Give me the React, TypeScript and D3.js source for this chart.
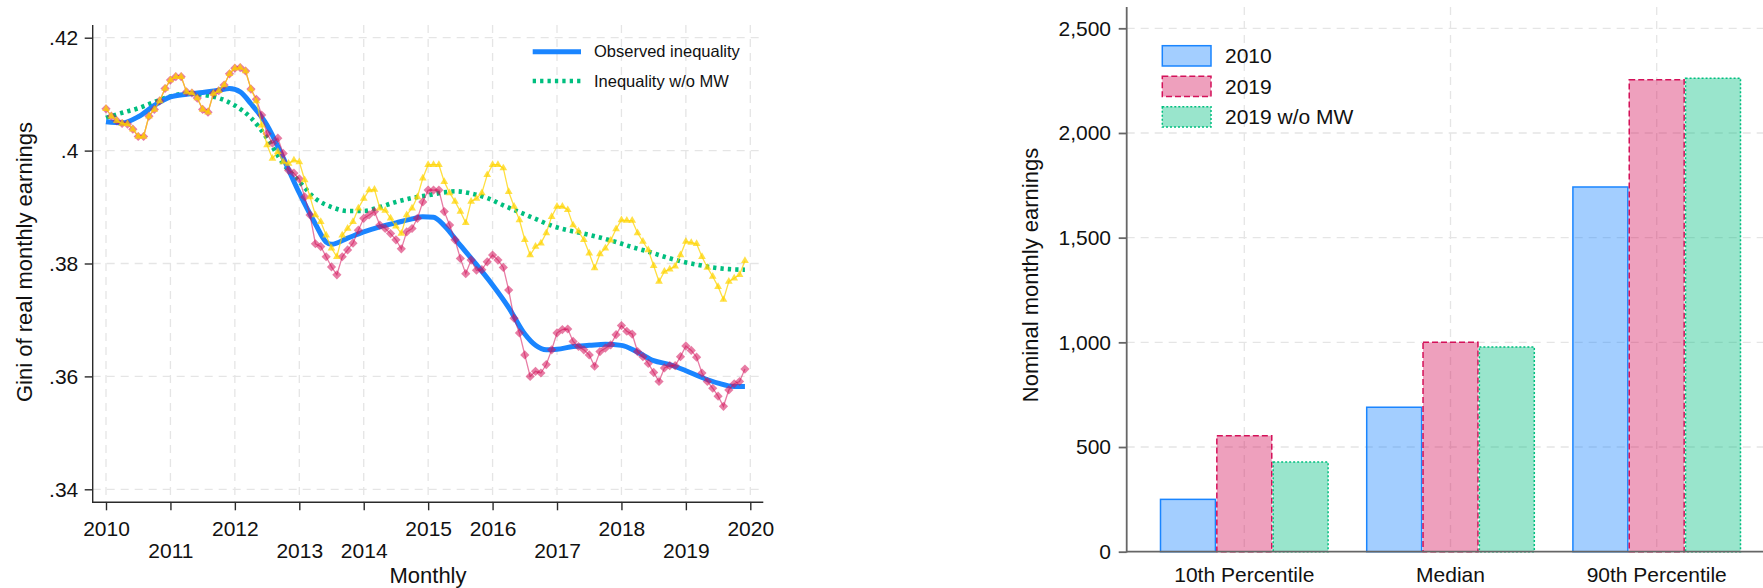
import React, { useEffect, useRef } from "react";
import * as d3 from "d3";

const W = 1763;
const H = 588;
const FONT = "'Liberation Sans', Arial, sans-serif";

// ---- left panel: monthly Gini, 2010m1 .. 2019m12 ----
const firstYear = 2010;
const giniObserved = [
  0.4074, 0.4061, 0.4053, 0.4048, 0.4047, 0.4038, 0.4025, 0.4025, 0.4061, 0.4073, 0.4088, 0.411,
  0.4125, 0.4131, 0.4131, 0.4104, 0.4102, 0.4093, 0.4073, 0.4068, 0.4101, 0.4106, 0.4116, 0.4136,
  0.4146, 0.4147, 0.4141, 0.4109, 0.4091, 0.4063, 0.403, 0.4013, 0.4022, 0.3995, 0.3965, 0.396,
  0.395, 0.3918, 0.3886, 0.3835, 0.383, 0.3812, 0.3794, 0.378, 0.3812, 0.3824, 0.3836, 0.3859,
  0.388, 0.3886, 0.3892, 0.3868, 0.3862, 0.3853, 0.3842, 0.3826, 0.3856, 0.3862, 0.388, 0.3909,
  0.393, 0.393, 0.393, 0.3892, 0.3868, 0.3842, 0.3809, 0.3782, 0.3806, 0.3788, 0.3789, 0.3803,
  0.3815, 0.3806, 0.3793, 0.3753, 0.3703, 0.3677, 0.3638, 0.36, 0.3609, 0.3606, 0.3621, 0.3647,
  0.3677, 0.3683, 0.3684, 0.3662, 0.3653, 0.3647, 0.3638, 0.3618, 0.3644, 0.365, 0.3656, 0.3674,
  0.369, 0.368, 0.3675, 0.3644, 0.3635, 0.3623, 0.3607, 0.3591, 0.3615, 0.3619, 0.3619, 0.3635,
  0.3654, 0.3646, 0.3634, 0.3606, 0.3591, 0.3579, 0.3565, 0.3547, 0.3576, 0.3587, 0.3591, 0.3613,
];
const giniNoMW = [
  0.4074, 0.4061, 0.4053, 0.4048, 0.4047, 0.4038, 0.4025, 0.4025, 0.4061, 0.4073, 0.4088, 0.411,
  0.4125, 0.4131, 0.4131, 0.4104, 0.4102, 0.4093, 0.4073, 0.4068, 0.4101, 0.4106, 0.4116, 0.4136,
  0.4146, 0.4147, 0.4141, 0.4109, 0.4088, 0.4045, 0.401, 0.3986, 0.3998, 0.398, 0.3977, 0.3983,
  0.398, 0.3948, 0.3918, 0.3886, 0.3874, 0.385, 0.3827, 0.3812, 0.385, 0.3862, 0.3874, 0.3898,
  0.3915, 0.393, 0.3931, 0.3898, 0.3894, 0.388, 0.3866, 0.3853, 0.3886, 0.3898, 0.3918, 0.3951,
  0.3975, 0.3975, 0.3975, 0.3945, 0.3925, 0.391, 0.3892, 0.3872, 0.391, 0.3915, 0.3925, 0.3957,
  0.3975, 0.3975, 0.3969, 0.3927, 0.3901, 0.3877, 0.3842, 0.3815, 0.383, 0.3836, 0.3854, 0.3883,
  0.3901, 0.3901, 0.3895, 0.3868, 0.3857, 0.3842, 0.3818, 0.3792, 0.3817, 0.3827, 0.3841, 0.3861,
  0.3877, 0.3876, 0.3876, 0.3854, 0.3839, 0.3824, 0.3796, 0.3768, 0.3786, 0.379, 0.3795, 0.3815,
  0.3839, 0.3837, 0.3835, 0.3812, 0.3793, 0.3777, 0.3759, 0.3736, 0.3768, 0.3774, 0.378, 0.3805,
];

// smoothed series, read at knot months (months since 2010m1)
const observedSmoothMonths = [0, 3, 6, 9, 12, 15, 18, 21, 23, 25, 27, 30, 33, 36, 39, 41, 42, 45, 48, 51, 54, 57, 59, 61, 63, 66, 69, 72, 75, 78, 80, 82, 84, 87, 90, 93, 96, 99, 102, 105, 108, 111, 114, 117, 119];
const observedSmooth = [0.4051, 0.4049, 0.406, 0.408, 0.4095, 0.41, 0.4103, 0.4107, 0.411, 0.4104, 0.4083, 0.4045, 0.3987, 0.3925, 0.387, 0.3838, 0.3834, 0.3845, 0.3856, 0.3865, 0.3872, 0.3879, 0.3883, 0.3882, 0.3867, 0.3832, 0.3798, 0.3762, 0.3722, 0.3675, 0.3655, 0.3647, 0.3648, 0.3653, 0.3655, 0.3657, 0.3655, 0.3643, 0.3628, 0.3621, 0.361, 0.3598, 0.3588, 0.3582, 0.3582];
const noMWSmoothMonths = [0, 3, 6, 9, 12, 15, 18, 21, 24, 27, 30, 33, 36, 39, 42, 45, 48, 51, 54, 57, 60, 63, 65, 68, 71, 74, 77, 80, 83, 86, 89, 92, 95, 98, 101, 104, 107, 110, 113, 116, 119];
const noMWSmooth = [0.4058, 0.4067, 0.4075, 0.4086, 0.4096, 0.4101, 0.4099, 0.4093, 0.408, 0.4058, 0.4022, 0.3977, 0.3945, 0.3915, 0.39, 0.3893, 0.3893, 0.39, 0.3909, 0.3916, 0.3921, 0.3926, 0.3928, 0.3924, 0.3916, 0.3903, 0.3891, 0.3879, 0.3867, 0.3859, 0.3853, 0.3846, 0.3838, 0.3829, 0.3821, 0.3812, 0.3804, 0.3798, 0.3793, 0.379, 0.3789];

const giniTicks = [0.34, 0.36, 0.38, 0.4, 0.42];
const giniTickLabels = [".34", ".36", ".38", ".4", ".42"];
const yearTicks = [2010, 2011, 2012, 2013, 2014, 2015, 2016, 2017, 2018, 2019, 2020];
const yearTickRow = [0, 1, 0, 1, 1, 0, 0, 1, 0, 1, 0];

// ---- right panel: nominal monthly earnings ----
const categories = ["10th Percentile", "Median", "90th Percentile"];
const seriesNames = ["2010", "2019", "2019 w/o MW"];
const earnings2010 = [250, 690, 1742];
const earnings2019 = [554, 1000, 2254];
const earnings2019NoMW = [428, 978, 2262];
const earningTicks = [0, 500, 1000, 1500, 2000, 2500];

const BLUE = "#1a85ff";
const PINK = "#d41159";
const GREEN = "#00bf7f";
const YELLOW = "#ffd400";
const GRID = "#e5e5e5";

function drawLeft(svg) {
  const axisX = 92.7, axisY = 502.3, top = 25, right = 763.3;
  const x = d3.scaleLinear().domain([2010, 2020]).range([106, 750.3]);
  const y = d3.scaleLinear().domain([0.34, 0.42]).range([489.3, 37.7]);
  const mx = (m) => x(firstYear + m / 12);

  const g = svg.append("g");

  g.selectAll(".hg").data(giniTicks).join("line")
    .attr("x1", axisX).attr("x2", right)
    .attr("y1", (d) => y(d)).attr("y2", (d) => y(d))
    .attr("stroke", GRID).attr("stroke-width", 1.3).attr("stroke-dasharray", "8,6");
  g.selectAll(".vg").data(yearTicks).join("line")
    .attr("x1", (d) => x(d)).attr("x2", (d) => x(d))
    .attr("y1", top).attr("y2", axisY)
    .attr("stroke", GRID).attr("stroke-width", 1.3).attr("stroke-dasharray", "8,6");

  // axes
  const ya = g.append("g").attr("transform", `translate(${axisX},0)`)
    .call(d3.axisLeft(y).tickValues(giniTicks).tickSize(8).tickPadding(6.4)
      .tickFormat((d, i) => giniTickLabels[i]));
  ya.select(".domain").remove();
  ya.selectAll("line").attr("stroke", "#2a2a2a").attr("stroke-width", 1.4);
  ya.selectAll("text").attr("font-family", FONT).attr("font-size", 21).attr("fill", "#111");

  const xa = g.append("g").attr("transform", `translate(0,${axisY})`)
    .call(d3.axisBottom(x).tickValues(yearTicks).tickSize(8).tickFormat(d3.format("d")));
  xa.select(".domain").remove();
  xa.selectAll("line").attr("stroke", "#2a2a2a").attr("stroke-width", 1.4);
  xa.selectAll("text").attr("font-family", FONT).attr("font-size", 21).attr("fill", "#111")
    .attr("dy", null)
    .attr("y", (d, i) => (yearTickRow[i] ? 55.4 : 33.4));

  g.append("line").attr("x1", axisX).attr("x2", axisX).attr("y1", top).attr("y2", axisY + 0.7)
    .attr("stroke", "#2a2a2a").attr("stroke-width", 1.4);
  g.append("line").attr("x1", axisX).attr("x2", right).attr("y1", axisY).attr("y2", axisY)
    .attr("stroke", "#2a2a2a").attr("stroke-width", 1.4);

  g.append("text").attr("transform", `translate(31.7,262) rotate(-90)`)
    .attr("text-anchor", "middle").attr("font-family", FONT).attr("font-size", 22).attr("fill", "#111")
    .text("Gini of real monthly earnings");
  g.append("text").attr("x", 428).attr("y", 583)
    .attr("text-anchor", "middle").attr("font-family", FONT).attr("font-size", 22).attr("fill", "#111")
    .text("Monthly");

  // smoothed lines
  const smooth = d3.line().x((d) => mx(d[0])).y((d) => y(d[1])).curve(d3.curveMonotoneX);
  g.append("path").datum(noMWSmoothMonths.map((m, i) => [m, noMWSmooth[i]]))
    .attr("d", smooth).attr("fill", "none").attr("stroke", GREEN)
    .attr("stroke-width", 4.6).attr("stroke-dasharray", "3.3,4.1");
  g.append("path").datum(observedSmoothMonths.map((m, i) => [m, observedSmooth[i]]))
    .attr("d", smooth).attr("fill", "none").attr("stroke", BLUE)
    .attr("stroke-width", 5).attr("stroke-linejoin", "round");

  // raw monthly series
  const raw = d3.line().x((d, i) => mx(i)).y((d) => y(d));
  g.append("path").datum(giniObserved).attr("d", raw).attr("fill", "none")
    .attr("stroke", PINK).attr("stroke-opacity", 0.55).attr("stroke-width", 1.3);
  g.selectAll(".dia").data(giniObserved).join("path")
    .attr("transform", (d, i) => `translate(${mx(i)},${y(d)})`)
    .attr("d", "M0,-4.6L4.6,0L0,4.6L-4.6,0Z")
    .attr("fill", PINK).attr("fill-opacity", 0.55);

  g.append("path").datum(giniNoMW).attr("d", raw).attr("fill", "none")
    .attr("stroke", YELLOW).attr("stroke-opacity", 0.75).attr("stroke-width", 1.3);
  g.selectAll(".tri").data(giniNoMW).join("path")
    .attr("transform", (d, i) => `translate(${mx(i)},${y(d)})`)
    .attr("d", d3.symbol(d3.symbolTriangle, 26)())
    .attr("fill", YELLOW).attr("fill-opacity", 0.72);

  // legend
  const lg = g.append("g").attr("font-family", FONT).attr("font-size", 16.5).attr("fill", "#111");
  lg.append("line").attr("x1", 532.7).attr("x2", 581).attr("y1", 51.7).attr("y2", 51.7)
    .attr("stroke", BLUE).attr("stroke-width", 5);
  lg.append("text").attr("x", 594).attr("y", 51.7).attr("dy", "0.35em").text("Observed inequality");
  lg.append("line").attr("x1", 532.7).attr("x2", 581).attr("y1", 81).attr("y2", 81)
    .attr("stroke", GREEN).attr("stroke-width", 4.6).attr("stroke-dasharray", "3.3,4.1");
  lg.append("text").attr("x", 594).attr("y", 81).attr("dy", "0.35em").text("Inequality w/o MW");
}

function drawRight(svg) {
  const axisX = 1126.7, axisY = 551.7, top = 7, right = W;
  const y = d3.scaleLinear().domain([0, 2500]).range([axisY, 28.3]);
  const xg = d3.scaleBand().domain(categories).range([1141.2, 1759.8]);
  const xs = d3.scaleBand().domain(seriesNames).range([0, 169]);
  const values = [earnings2010, earnings2019, earnings2019NoMW];
  const colors = [BLUE, PINK, GREEN];
  const dashes = [null, "6,3", "2,2"];

  const g = svg.append("g");
  g.selectAll(".hg").data(earningTicks.slice(1)).join("line")
    .attr("x1", axisX).attr("x2", right)
    .attr("y1", (d) => y(d)).attr("y2", (d) => y(d))
    .attr("stroke", GRID).attr("stroke-width", 1.3).attr("stroke-dasharray", "8,6");
  g.selectAll(".vg").data(categories).join("line")
    .attr("x1", (d) => xg(d) + xg.bandwidth() / 2).attr("x2", (d) => xg(d) + xg.bandwidth() / 2)
    .attr("y1", top).attr("y2", axisY)
    .attr("stroke", GRID).attr("stroke-width", 1.3).attr("stroke-dasharray", "8,6");

  // bars
  seriesNames.forEach((s, si) => {
    g.selectAll(".bar" + si).data(categories).join("rect")
      .attr("x", (c) => xg(c) + xg.bandwidth() / 2 - 84.5 + xs(s) + 0.7)
      .attr("width", xs.bandwidth() - 1.4)
      .attr("y", (c, ci) => y(values[si][ci]))
      .attr("height", (c, ci) => axisY - y(values[si][ci]))
      .attr("fill", colors[si]).attr("fill-opacity", 0.4)
      .attr("stroke", colors[si]).attr("stroke-width", 1.5)
      .attr("stroke-dasharray", dashes[si]);
  });

  const ya = g.append("g").attr("transform", `translate(${axisX},0)`)
    .call(d3.axisLeft(y).tickValues(earningTicks).tickSize(8).tickPadding(7.7).tickFormat(d3.format(",")));
  ya.select(".domain").remove();
  ya.selectAll("line").attr("stroke", "#666").attr("stroke-width", 1.8);
  ya.selectAll("text").attr("font-family", FONT).attr("font-size", 21).attr("fill", "#111");

  g.append("line").attr("x1", axisX).attr("x2", axisX).attr("y1", top).attr("y2", axisY + 0.9)
    .attr("stroke", "#666").attr("stroke-width", 1.8);
  g.append("line").attr("x1", axisX).attr("x2", right).attr("y1", axisY).attr("y2", axisY)
    .attr("stroke", "#666").attr("stroke-width", 1.8);

  g.selectAll(".cat").data(categories).join("text")
    .attr("x", (d) => xg(d) + xg.bandwidth() / 2).attr("y", 582)
    .attr("text-anchor", "middle").attr("font-family", FONT).attr("font-size", 21).attr("fill", "#111")
    .text((d) => d);

  g.append("text").attr("transform", `translate(1038.3,275) rotate(-90)`)
    .attr("text-anchor", "middle").attr("font-family", FONT).attr("font-size", 22).attr("fill", "#111")
    .text("Nominal monthly earnings");

  // legend
  const rowY = [45.7, 76.2, 106.7];
  seriesNames.forEach((s, si) => {
    g.append("rect").attr("x", 1162.3).attr("y", rowY[si]).attr("width", 48.7).attr("height", 20.3)
      .attr("fill", colors[si]).attr("fill-opacity", 0.4)
      .attr("stroke", colors[si]).attr("stroke-width", 1.5).attr("stroke-dasharray", dashes[si]);
    g.append("text").attr("x", 1225).attr("y", rowY[si] + 10.2).attr("dy", "0.36em")
      .attr("font-family", FONT).attr("font-size", 21).attr("fill", "#111").text(s);
  });
}

export default function App() {
  const ref = useRef<SVGSVGElement>(null);

  useEffect(() => {
    const svg = d3.select(ref.current);
    svg.selectAll("*").remove();
    drawLeft(svg);
    drawRight(svg);
  }, []);

  return (
    <div style={{ position: "fixed", left: 0, top: 0 }}>
      <svg ref={ref} width={W} height={H} style={{ display: "block", background: "#fff" }} />
    </div>
  );
}
